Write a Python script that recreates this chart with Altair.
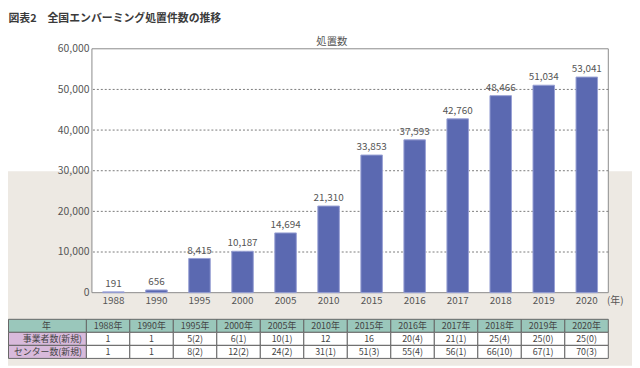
import altair as alt
import pandas as pd

FONT = "Noto Sans CJK JP"

# ---- data ----
years = ["1988", "1990", "1995", "2000", "2005", "2010", "2015", "2016", "2017", "2018", "2019", "2020"]
counts = [191, 656, 8415, 10187, 14694, 21310, 33853, 37593, 42760, 48466, 51034, 53041]
y_ticks = [0, 10000, 20000, 30000, 40000, 50000, 60000]
grid_values = [10000, 20000, 30000, 40000, 50000]
table_cols = [y + "年" for y in years]
operators = ["1", "1", "5(2)", "6(1)", "10(1)", "12", "16", "20(4)", "21(1)", "25(4)", "25(0)", "25(0)"]
centers = ["1", "1", "8(2)", "12(2)", "24(2)", "31(1)", "51(3)", "55(4)", "56(1)", "66(10)", "67(1)", "70(3)"]
row_labels = ["年", "事業者数(新規)", "センター数(新規)"]
title_text = "図表2　全国エンバーミング処置件数の推移"
y_title = "処置数"
unit_text = "(年)"

# ---- tables ----
bar_df = pd.DataFrame({"year": years, "count": counts})
grid_df = pd.DataFrame({"v": grid_values})
one = pd.DataFrame({"a": [0]})

TEAL = "#9AC7BB"
PURPLE = "#D8BADB"
row_ids = ["h", "r1", "r2"]
cells = []
for c in table_cols:
    cells.append({"col": c, "row": "h", "text": c, "fill": TEAL})
for c, v in zip(table_cols, operators):
    cells.append({"col": c, "row": "r1", "text": v, "fill": "white"})
for c, v in zip(table_cols, centers):
    cells.append({"col": c, "row": "r2", "text": v, "fill": "white"})
cell_df = pd.DataFrame(cells)
head_df = pd.DataFrame({"row": row_ids, "text": row_labels, "fill": [TEAL, PURPLE, PURPLE]})

W, H = 523, 247
TXT = "#555555"
TFS = 9

yscale = alt.Scale(domain=[0, 60000])
xscale = alt.Scale(domain=years, paddingInner=0.5, paddingOuter=0.25)

beige = alt.Chart(one).mark_rect(fill="#EDE9E3").encode(
    x=alt.value(-85), x2=alt.value(547), y=alt.value(124), y2=alt.value(321))

plot_bg = alt.Chart(one).mark_rect(fill="white", stroke="#8a8a8a", strokeWidth=1).encode(
    x=alt.value(0), x2=alt.value(W), y=alt.value(0), y2=alt.value(H))

grid = alt.Chart(grid_df).mark_rule(color="#7a7a7a", strokeDash=[2, 2], strokeWidth=1).encode(
    y=alt.Y("v:Q", scale=yscale, axis=None))

bars = alt.Chart(bar_df).mark_bar(fill="#5B69B1", stroke="#98A1D4", strokeWidth=1).encode(
    x=alt.X("year:N", scale=xscale, axis=alt.Axis(
        title=None, labelAngle=0, ticks=False, domain=False, labelPadding=2.5,
        labelFont=FONT, labelFontSize=10, labelColor=TXT, zindex=1)),
    y=alt.Y("count:Q", scale=yscale, axis=alt.Axis(
        title=None, values=y_ticks, format=",d", ticks=False, domain=False, grid=False,
        labelPadding=3, labelFont=FONT, labelFontSize=10.5, labelColor=TXT, zindex=1)))

bar_labels = alt.Chart(bar_df).mark_text(
    baseline="bottom", dy=-3, fontSize=10, font=FONT, color=TXT).encode(
    x=alt.X("year:N", scale=xscale, axis=None),
    y=alt.Y("count:Q", scale=yscale, axis=None),
    text=alt.Text("count:Q", format=",d"))

unit = alt.Chart(pd.DataFrame({"t": [unit_text]})).mark_text(
    align="center", baseline="middle", fontSize=10, font=FONT, color=TXT).encode(
    x=alt.value(530), y=alt.value(255), text="t:N")

title = alt.Chart(pd.DataFrame({"t": [title_text]})).mark_text(
    align="left", baseline="middle", fontSize=11, font=FONT, fontWeight="bold", color="#3a3a3a").encode(
    x=alt.value(-84.5), y=alt.value(-30), text="t:N")

ytitle = alt.Chart(pd.DataFrame({"t": [y_title]})).mark_text(
    align="center", baseline="middle", fontSize=10.5, font=FONT, color=TXT).encode(
    x=alt.value(243), y=alt.value(-7), text="t:N")

tx = alt.X("col:N", sort=table_cols,
           scale=alt.Scale(domain=table_cols, range=[-5.7, W], paddingInner=0, paddingOuter=0), axis=None)
ty = alt.Y("row:N", sort=row_ids,
           scale=alt.Scale(domain=row_ids, range=[274, 313.6], paddingInner=0, paddingOuter=0), axis=None)

cell_rect = alt.Chart(cell_df).mark_rect(stroke="#666666", strokeWidth=1).encode(
    x=tx, y=ty, color=alt.Color("fill:N", scale=None))
cell_text = alt.Chart(cell_df).mark_text(
    align="center", baseline="middle", fontSize=TFS, font=FONT, color="#444444").encode(
    x=tx, y=ty, text="text:N")

head_rect = alt.Chart(head_df).mark_rect(stroke="#666666", strokeWidth=1).encode(
    x=alt.value(-84.5), x2=alt.value(-5.7), y=ty, color=alt.Color("fill:N", scale=None))
head_text_year = alt.Chart(head_df[head_df["row"] == "h"]).mark_text(
    align="center", baseline="middle", fontSize=TFS, font=FONT, color="#444444").encode(
    x=alt.value(-46), y=ty, text="text:N")
head_text_rows = alt.Chart(head_df[head_df["row"] != "h"]).mark_text(
    align="right", baseline="middle", fontSize=TFS, font=FONT, color="#444444").encode(
    x=alt.value(-10), y=ty, text="text:N")

chart = alt.layer(
    beige, plot_bg, grid, bars, bar_labels, unit, title, ytitle,
    cell_rect, cell_text, head_rect, head_text_year, head_text_rows
).resolve_scale(x="independent", y="independent").properties(
    width=W, height=H,
    autosize=alt.AutoSizeParams(type="none"),
    padding={"left": 85, "top": 39, "right": 24, "bottom": 74},
).configure_view(stroke=None)

chart.save("out.html", embed_options={"renderer": "svg", "actions": False})
